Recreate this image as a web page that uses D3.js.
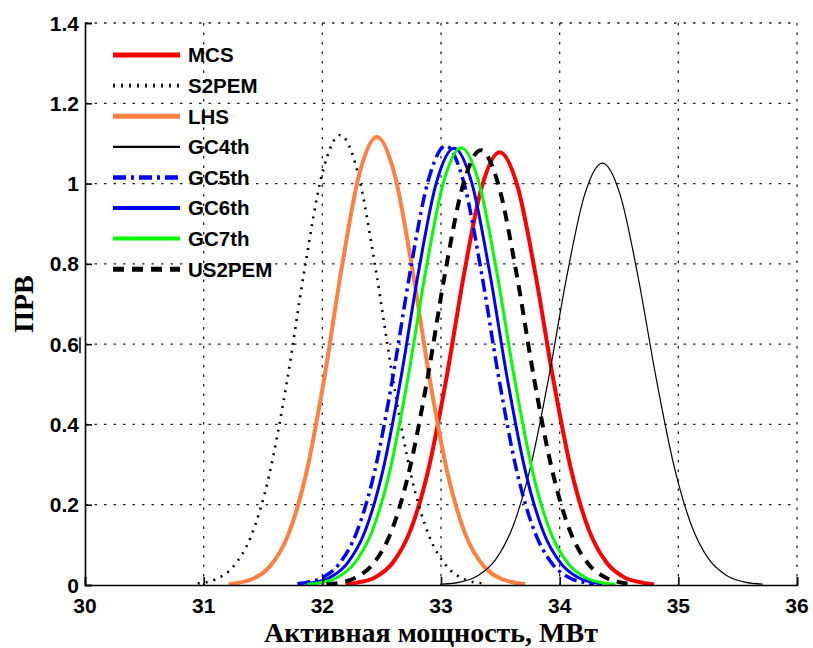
<!DOCTYPE html>
<html>
<head>
<meta charset="utf-8">
<script src="https://cdn.jsdelivr.net/npm/d3@7"></script>
<style>
  body { margin: 0; background: #fff; }
  .tick-label { font-family: "Liberation Sans", Arial, sans-serif; font-weight: bold; font-size: 21px; fill: #000; }
  .axis-title { font-family: "Liberation Serif", "Times New Roman", serif; font-weight: bold; font-size: 28px; fill: #000; }
  .legend-text { font-family: "Liberation Sans", Arial, sans-serif; font-weight: bold; font-size: 20.5px; fill: #000; }
</style>
</head>
<body>
<div id="chart"></div>
<script>
// values (x = active power, MW; y = PDF)
var seriesNames = ["MCS", "S2PEM", "LHS", "GC4th", "GC5th", "GC6th", "GC7th", "US2PEM"];

var mcsX = [32.195, 32.295, 32.445, 32.595, 32.745, 32.895, 33.045, 33.195, 33.345, 33.495, 33.645, 33.795, 33.945, 34.095, 34.245, 34.395, 34.545, 34.695, 34.795];
var mcsY = [0.002, 0.006, 0.019, 0.056, 0.138, 0.289, 0.514, 0.776, 0.993, 1.078, 0.993, 0.776, 0.514, 0.289, 0.138, 0.056, 0.019, 0.006, 0.002];

var s2pemX = [30.95, 31.10, 31.25, 31.40, 31.55, 31.70, 31.85, 32.00, 32.15, 32.30, 32.45, 32.60, 32.75, 32.90, 33.05, 33.20, 33.35];
var s2pemY = [0.004, 0.014, 0.046, 0.122, 0.271, 0.504, 0.786, 1.026, 1.121, 1.026, 0.786, 0.504, 0.271, 0.122, 0.046, 0.014, 0.004];

var lhsX = [31.21, 31.41, 31.56, 31.71, 31.86, 32.01, 32.16, 32.31, 32.46, 32.61, 32.76, 32.91, 33.06, 33.21, 33.36, 33.51, 33.71];
var lhsY = [0.002, 0.015, 0.047, 0.123, 0.272, 0.504, 0.784, 1.022, 1.116, 1.022, 0.784, 0.504, 0.272, 0.123, 0.047, 0.015, 0.002];

var gc4X = [33.01, 33.16, 33.31, 33.46, 33.61, 33.76, 33.91, 34.06, 34.21, 34.36, 34.51, 34.66, 34.81, 34.96, 35.11, 35.26, 35.41, 35.56, 35.71];
var gc4Y = [0.002, 0.007, 0.023, 0.063, 0.149, 0.301, 0.520, 0.769, 0.972, 1.051, 0.972, 0.769, 0.520, 0.301, 0.149, 0.063, 0.023, 0.007, 0.002];

var gc5X = [31.79, 31.84, 31.99, 32.14, 32.29, 32.44, 32.59, 32.74, 32.89, 33.04, 33.19, 33.34, 33.49, 33.64, 33.79, 33.94, 34.09, 34.24, 34.29];
var gc5Y = [0.003, 0.005, 0.017, 0.052, 0.132, 0.282, 0.511, 0.780, 1.005, 1.094, 1.005, 0.780, 0.511, 0.282, 0.132, 0.052, 0.017, 0.005, 0.003];

var gc6X = [31.86, 31.91, 32.06, 32.21, 32.36, 32.51, 32.66, 32.81, 32.96, 33.11, 33.26, 33.41, 33.56, 33.71, 33.86, 34.01, 34.16, 34.31, 34.36];
var gc6Y = [0.003, 0.005, 0.018, 0.054, 0.134, 0.285, 0.512, 0.779, 1.001, 1.088, 1.001, 0.779, 0.512, 0.285, 0.134, 0.054, 0.018, 0.005, 0.003];

var gc7X = [31.87, 31.97, 32.12, 32.27, 32.42, 32.57, 32.72, 32.87, 33.02, 33.17, 33.32, 33.47, 33.62, 33.77, 33.92, 34.07, 34.22, 34.37, 34.47];
var gc7Y = [0.002, 0.005, 0.018, 0.054, 0.134, 0.285, 0.513, 0.780, 1.002, 1.089, 1.002, 0.780, 0.513, 0.285, 0.134, 0.054, 0.018, 0.005, 0.002];

var us2pemX = [32.035, 32.135, 32.285, 32.435, 32.585, 32.735, 32.885, 33.035, 33.185, 33.335, 33.485, 33.635, 33.785, 33.935, 34.085, 34.235, 34.385, 34.535, 34.635];
var us2pemY = [0.002, 0.005, 0.019, 0.055, 0.136, 0.288, 0.513, 0.778, 0.996, 1.083, 0.996, 0.778, 0.513, 0.288, 0.136, 0.055, 0.019, 0.005, 0.002];

var xTicks = [30, 31, 32, 33, 34, 35, 36];
var yTicks = [0, 0.2, 0.4, 0.6, 0.8, 1, 1.2, 1.4];

var xTitle = "Активная мощность, МВт";
var yTitle = "ПРВ";

var allX = [mcsX, s2pemX, lhsX, gc4X, gc5X, gc6X, gc7X, us2pemX];
var allY = [mcsY, s2pemY, lhsY, gc4Y, gc5Y, gc6Y, gc7Y, us2pemY];

// line looks, same order as seriesNames
var styles = [
    {color: "#ff0000", width: 4, dash: null},
    {color: "#000000", width: 2.6, dash: "2,6"},
    {color: "#ff8040", width: 4, dash: null},
    {color: "#000000", width: 1.2, dash: null},
    {color: "#0000ff", width: 3.5, dash: "13,5,3,5"},
    {color: "#0000ff", width: 3, dash: null},
    {color: "#00ff00", width: 3, dash: null},
    {color: "#000000", width: 4, dash: "11,8"}
];

var svgWidth = 813, svgHeight = 648;
var margin = {top: 23, right: 16, bottom: 63, left: 85};
var chartWidth = svgWidth - margin.left - margin.right;
var chartHeight = svgHeight - margin.top - margin.bottom;

var svg = d3.select("#chart").append("svg")
    .attr("width", svgWidth)
    .attr("height", svgHeight);

var g = svg.append("g")
    .attr("transform", `translate(${margin.left}, ${margin.top})`);

var xScale = d3.scaleLinear().domain([30, 36]).range([0, chartWidth]);
var yScale = d3.scaleLinear().domain([0, 1.4]).range([chartHeight, 0]);

// grid
g.selectAll(".vgrid")
    .data(xTicks.slice(1))
    .enter().append("line")
    .attr("x1", d => xScale(d)).attr("x2", d => xScale(d))
    .attr("y1", 0).attr("y2", chartHeight)
    .attr("stroke", "#222").attr("stroke-width", 1.3)
    .attr("stroke-dasharray", "2.5,7");

g.selectAll(".hgrid")
    .data(yTicks.slice(1))
    .enter().append("line")
    .attr("x1", 0).attr("x2", chartWidth)
    .attr("y1", d => yScale(d)).attr("y2", d => yScale(d))
    .attr("stroke", "#222").attr("stroke-width", 1.3)
    .attr("stroke-dasharray", "2.5,7");

// curves
g.append("clipPath").attr("id", "clip")
    .append("rect").attr("width", chartWidth).attr("height", chartHeight + 3).attr("y", -3);

var line = d3.line()
    .x(d => xScale(d[0]))
    .y(d => yScale(d[1]))
    .curve(d3.curveMonotoneX);

seriesNames.forEach(function(name, i) {
    var pts = allX[i].map((x, j) => [x, allY[i][j]]);
    var p = g.append("path")
        .datum(pts)
        .attr("clip-path", "url(#clip)")
        .attr("fill", "none")
        .attr("stroke", styles[i].color)
        .attr("stroke-width", styles[i].width)
        .attr("d", line);
    if (styles[i].dash) p.attr("stroke-dasharray", styles[i].dash);
});

// axes (ticks point inward)
var xAxis = d3.axisBottom(xScale).tickValues(xTicks).tickSize(-8).tickFormat("");
var yAxis = d3.axisLeft(yScale).tickValues(yTicks).tickSize(-7).tickFormat("");

var gx = g.append("g").attr("transform", `translate(0, ${chartHeight})`).call(xAxis);
var gy = g.append("g").call(yAxis);
[gx, gy].forEach(function(a) {
    a.select(".domain").attr("stroke", "#000").attr("stroke-width", 1.6);
    a.selectAll(".tick line").attr("stroke", "#000").attr("stroke-width", 1.6);
});

g.selectAll(".xlab")
    .data(xTicks)
    .enter().append("text")
    .attr("class", "tick-label")
    .attr("x", d => xScale(d))
    .attr("y", chartHeight + 28)
    .attr("text-anchor", "middle")
    .text(d => d);

g.selectAll(".ylab")
    .data(yTicks)
    .enter().append("text")
    .attr("class", "tick-label")
    .attr("x", -6)
    .attr("y", d => yScale(d))
    .attr("dy", "0.36em")
    .attr("text-anchor", "end")
    .text(d => d);

// stray mark next to the 0.6 label in the original
g.append("line")
    .attr("x1", -5).attr("x2", -5)
    .attr("y1", yScale(0.6) - 7).attr("y2", yScale(0.6) + 9)
    .attr("stroke", "#000").attr("stroke-width", 1.5);

// axis titles
svg.append("text")
    .attr("class", "axis-title")
    .attr("x", margin.left + xScale(33) - 10)
    .attr("y", 642)
    .attr("text-anchor", "middle")
    .text(xTitle);

svg.append("text")
    .attr("class", "axis-title")
    .attr("transform", `translate(33, ${margin.top + yScale(0.7)}) rotate(-90)`)
    .attr("text-anchor", "middle")
    .text(yTitle);

// legend
var legend = g.append("g").attr("transform", "translate(28, 32)");
seriesNames.forEach(function(name, i) {
    var row = legend.append("g").attr("transform", `translate(0, ${i * 30.6})`);
    var l = row.append("line")
        .attr("x1", 0).attr("x2", 67)
        .attr("y1", 0).attr("y2", 0)
        .attr("stroke", styles[i].color)
        .attr("stroke-width", styles[i].width + 1);
    if (styles[i].dash) l.attr("stroke-dasharray", styles[i].dash);
    row.append("text")
        .attr("class", "legend-text")
        .attr("x", 75)
        .attr("y", 0)
        .attr("dy", "0.36em")
        .text(name);
});
</script>
</body>
</html>
